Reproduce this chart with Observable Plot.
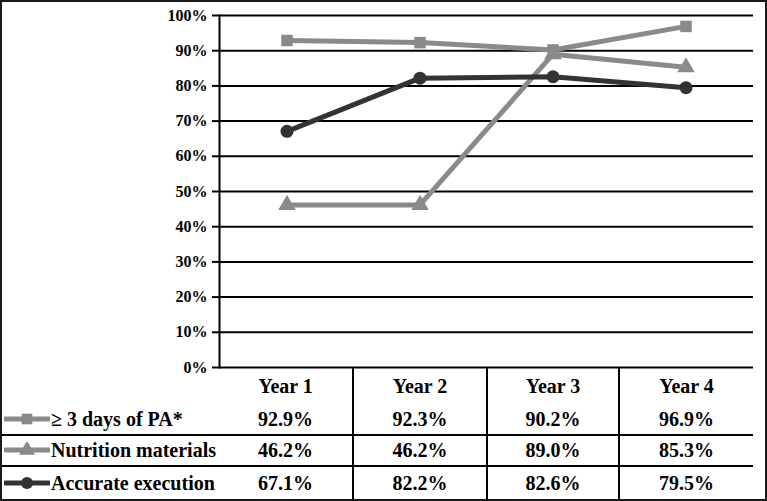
<!DOCTYPE html>
<html>
<head>
<meta charset="utf-8">
<script src="https://cdn.jsdelivr.net/npm/d3@7"></script>
<script src="https://cdn.jsdelivr.net/npm/@observablehq/plot@0.6"></script>
<style>
  html, body { margin: 0; padding: 0; background: #fff; }
  #wrap { position: relative; width: 767px; height: 501px; overflow: hidden; background: #fff;
          font-family: "Liberation Serif", "Times New Roman", serif; font-weight: bold; color: #000; }
  #border { position: absolute; left: 0; top: 0; width: 767px; height: 501px; box-sizing: border-box;
            border: 2px solid #1a1a1a; pointer-events: none; }
  #chart { position: absolute; left: 0; top: 0; }
  #tbl { position: absolute; left: 0; top: 368px; border-collapse: collapse; table-layout: fixed; width: 753px; }
  #tbl td { padding: 0; font-size: 20px; text-align: center; vertical-align: middle; white-space: nowrap; }
  #tbl td.lab { text-align: left; padding-left: 4px; }
  #tbl td.sep { border-left: 2px solid #000; }
  #tbl tr.line td { border-top: 2px solid #000; }
  .sw { vertical-align: middle; margin-right: 1px; position: relative; top: -2px; }
</style>
</head>
<body>
<div id="wrap">
  <div id="chart"></div>
  <table id="tbl"></table>
  <div id="border"></div>
</div>
<script>
const years = ["Year 1", "Year 2", "Year 3", "Year 4"];
const seriesNames = ["≥ 3 days of PA*", "Nutrition materials", "Accurate execution"];
const paValues = [92.9, 92.3, 90.2, 96.9];
const nutritionValues = [46.2, 46.2, 89.0, 85.3];
const accurateValues = [67.1, 82.2, 82.6, 79.5];
const yTicks = [0, 10, 20, 30, 40, 50, 60, 70, 80, 90, 100];
const seriesColors = ["#8a8a8a", "#8a8a8a", "#333333"];
const seriesSymbols = ["square", "triangle", "circle"];

const seriesValues = [paValues, nutritionValues, accurateValues];
const data = [];
seriesNames.forEach((s, i) => years.forEach((y, j) => data.push({series: s, year: y, value: seriesValues[i][j]})));

const chart = Plot.plot({
  width: 767,
  height: 371,
  marginTop: 15,
  marginBottom: 4,
  marginLeft: 219,
  marginRight: 14,
  x: {type: "band", domain: years, padding: 0, axis: null},
  y: {domain: [0, 100], axis: null, label: null},
  color: {domain: seriesNames, range: seriesColors},
  symbol: {domain: seriesNames, range: seriesSymbols},
  style: {fontFamily: "'Liberation Serif', 'Times New Roman', serif", fontWeight: "bold", fontSize: "16px", color: "#000", background: "transparent", overflow: "visible"},
  marks: [
    Plot.gridY(yTicks, {stroke: "#000", strokeOpacity: 1, strokeWidth: 2}),
    Plot.axisY(yTicks, {tickSize: 7, tickPadding: 5, tickFormat: d => d + "%", stroke: "#000", strokeWidth: 2, fontWeight: "bold", fontSize: 16, label: null}),
    Plot.frame({anchor: "left", stroke: "#000", strokeWidth: 2}),
    Plot.line(data, {x: "year", y: "value", z: "series", stroke: "series", strokeWidth: 5}),
    Plot.dot(data, {x: "year", y: "value", fill: "series", symbol: "series", r: 6.5})
  ]
});
document.getElementById("chart").appendChild(chart);

// data table
const tbl = d3.select("#tbl");
const cg = tbl.append("colgroup");
[219, 134, 134, 132, 134].forEach(w => cg.append("col").style("width", w + "px"));
const head = tbl.append("tr").style("height", "36px");
head.append("td");
years.forEach((y, j) => head.append("td").attr("class", j > 0 ? "sep" : null).text(y));
const rowHeights = [31, 31, 33];
const symMap = {square: d3.symbolSquare, triangle: d3.symbolTriangle, circle: d3.symbolCircle};
seriesNames.forEach((s, i) => {
  const tr = tbl.append("tr").attr("class", i > 0 ? "line" : null).style("height", rowHeights[i] + "px");
  const lab = tr.append("td").attr("class", "lab");
  const sw = lab.append("svg").attr("class", "sw").attr("width", 46).attr("height", 16);
  sw.append("line").attr("x1", 1).attr("x2", 45).attr("y1", 8).attr("y2", 8)
    .attr("stroke", seriesColors[i]).attr("stroke-width", 5).attr("stroke-linecap", "round");
  sw.append("path").attr("transform", "translate(23,8)")
    .attr("d", d3.symbol(symMap[seriesSymbols[i]], Math.PI * 6 * 6)())
    .attr("fill", seriesColors[i]);
  lab.append("span").text(s);
  seriesValues[i].forEach((v, j) => tr.append("td").attr("class", j > 0 ? "sep" : null).text(v.toFixed(1) + "%"));
});
</script>
</body>
</html>
